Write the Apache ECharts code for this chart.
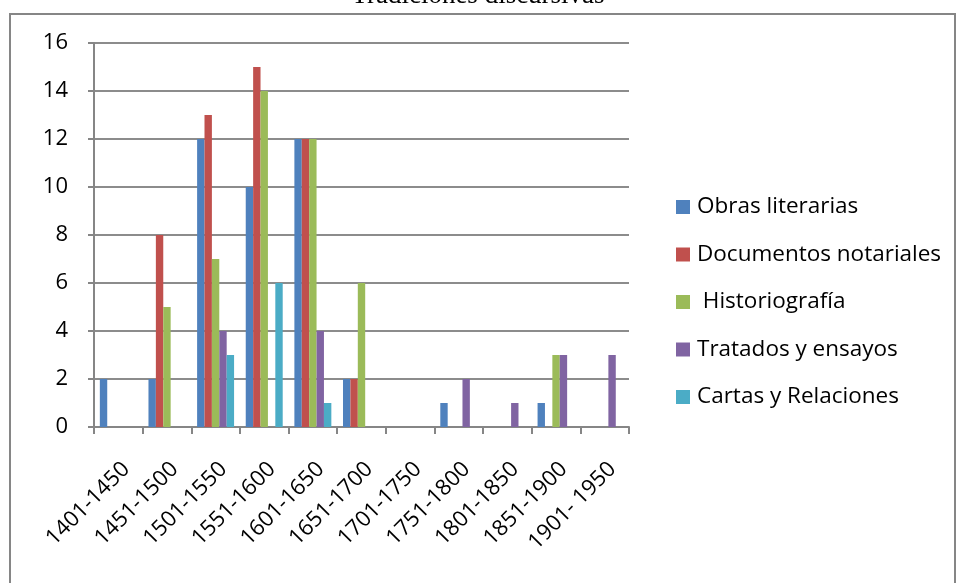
<!DOCTYPE html>
<html><head><meta charset="utf-8">
<script src="https://cdn.jsdelivr.net/npm/echarts@6/dist/echarts.min.js"></script>
<style>html,body{margin:0;padding:0;background:#fff}#c{width:956px;height:583px}</style>
</head><body><div id="c"></div>
<script>
const categories = ['1401-1450','1451-1500','1501-1550','1551-1600','1601-1650','1651-1700','1701-1750','1751-1800','1801-1850','1851-1900','1901- 1950'];
const obrasLiterarias = [2,2,12,10,12,2,0,1,0,1,0];
const documentosNotariales = [0,8,13,15,12,2,0,0,0,0,0];
const historiografia = [0,5,7,14,12,6,0,0,0,3,0];
const tratadosEnsayos = [0,0,4,0,4,0,0,2,1,3,3];
const cartasRelaciones = [0,0,3,6,1,0,0,0,0,0,0];
const seriesNames = ['Obras literarias','Documentos notariales',' Historiografía','Tratados y ensayos','Cartas y Relaciones'];
const colors = ['#4F81BD','#C0504D','#9BBB59','#8064A2','#4BACC6'];
const yTicks = {min:0,max:16,interval:2};

const chart = echarts.init(document.getElementById('c'));
const dataSets = [obrasLiterarias,documentosNotariales,historiografia,tratadosEnsayos,cartasRelaciones];
chart.setOption({
  animation:false,
  color:colors,
  title:{text:'Tradiciones discursivas',left:'center',top:-23,textStyle:{fontFamily:'Liberation Serif',fontSize:27,fontWeight:'normal',color:'#000'}},
  graphic:[{type:'rect',shape:{x:10,y:14,width:945,height:600},style:{fill:'none',stroke:'#868686',lineWidth:2},z:-1}],
  grid:{left:94,right:327,top:43,bottom:156},
  legend:{orient:'vertical',left:671,top:190,itemGap:23.5,itemWidth:14,itemHeight:14,icon:'rect',
    textStyle:{fontFamily:'Open Sans',fontSize:22.5,lineHeight:24,color:'#000',padding:[0,0,0,2]},data:seriesNames},
  xAxis:{type:'category',data:categories,
    axisLine:{lineStyle:{color:'#868686',width:2}},
    axisTick:{show:true,length:7,lineStyle:{color:'#868686',width:2}},
    axisLabel:{rotate:45,margin:31,verticalAlign:'top',fontFamily:'Open Sans',fontSize:22,color:'#000',interval:0}},
  yAxis:{type:'value',min:yTicks.min,max:yTicks.max,interval:yTicks.interval,
    axisLine:{show:true,lineStyle:{color:'#868686',width:2}},
    axisTick:{show:true,length:6,lineStyle:{color:'#868686',width:2}},
    splitLine:{lineStyle:{color:'#8c8c8c',width:2}},
    axisLabel:{fontFamily:'Open Sans',fontSize:22,color:'#000',margin:26}},
  series:dataSets.map((d,i)=>({name:seriesNames[i],type:'bar',data:d,barGap:'0%',barCategoryGap:'24%'}))
});
</script></body></html>
